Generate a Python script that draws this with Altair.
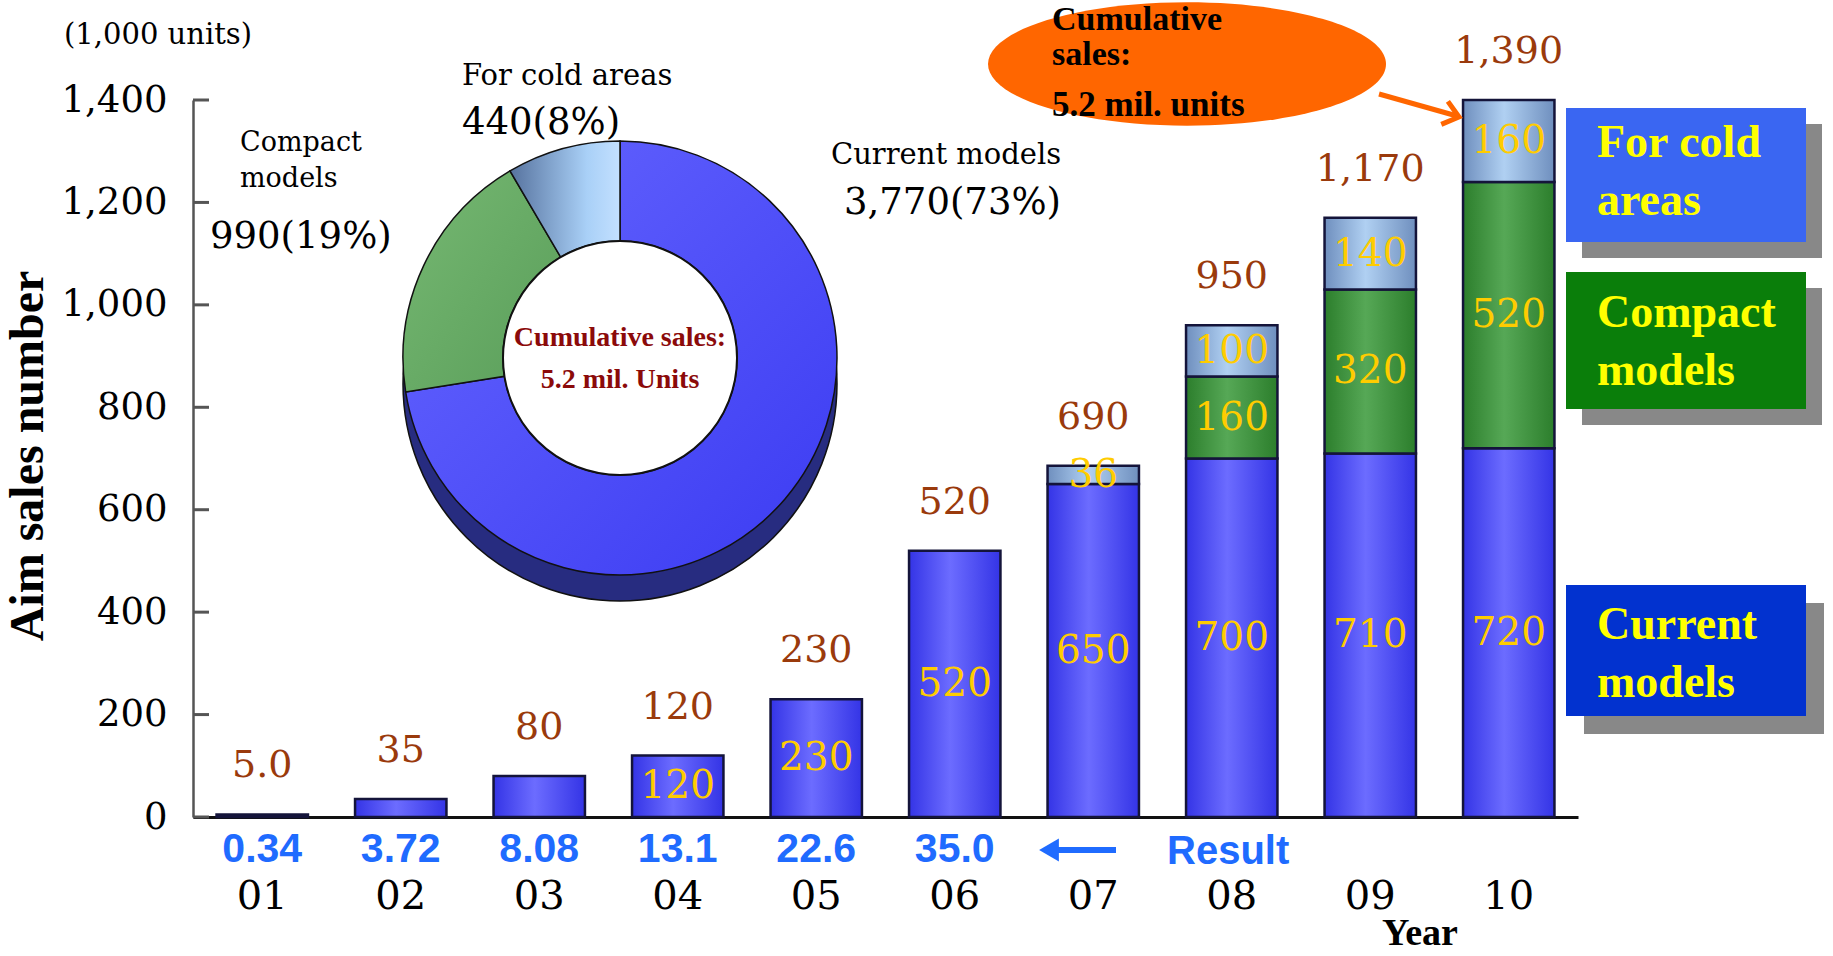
import math
import altair as alt
import pandas as pd

# ---- data -------------------------------------------------------------
years = ["01", "02", "03", "04", "05", "06", "07", "08", "09", "10"]
current = [5, 35, 80, 120, 230, 520, 650, 700, 710, 720]
compact = [0, 0, 0, 0, 0, 0, 0, 160, 320, 520]
cold = [0, 0, 0, 0, 0, 0, 36, 100, 140, 160]
totals = ["5.0", "35", "80", "120", "230", "520", "690", "950", "1,170", "1,390"]
results = ["0.34", "3.72", "8.08", "13.1", "22.6", "35.0"]
current_labelled = [False, False, False, True, True, True, True, True, True, True]

pie_names = ["Current models", "Compact models", "For cold areas"]
pie_values = [3770, 990, 440]
pie_shares = [73, 19, 8]

y_ticks = [0, 200, 400, 600, 800, 1000, 1200, 1400]

W, H = 1385, 717

# ---- tables -----------------------------------------------------------
rows = []
for i, yr in enumerate(years):
    low = 0
    for name, vals in (("current", current), ("compact", compact), ("cold", cold)):
        v = vals[i]
        if v <= 0:
            continue
        shown = current_labelled[i] if name == "current" else True
        rows.append({"year": yr, "series": name, "low": low, "high": low + v,
                     "mid": low + v / 2, "txt": str(v), "shown": shown})
        low += v
seg = pd.DataFrame(rows)

tops = seg.groupby("year", as_index=False)["high"].max().rename(columns={"high": "top"})
tops["label"] = totals
res = pd.DataFrame({"year": years[:len(results)], "r": results})
yrs = pd.DataFrame({"year": years})
ticks = pd.DataFrame({"v": y_ticks})

total_pie = sum(pie_values)
cum = 0
pie_rows = []
for n, v, s in zip(pie_names, pie_values, pie_shares):
    pie_rows.append({"name": n, "t0": cum, "t1": cum + v, "lab": f"{v:,}({s}%)"})
    cum += v
pie = pd.DataFrame(pie_rows)

ONE = alt.Data(values=[{"k": 0}])

# ---- shared scales ---------------------------------------------------
xscale = alt.Scale(domain=years, paddingInner=0.34, paddingOuter=0.17)
yscale = alt.Scale(domain=[0, 1400], nice=False, zero=True)
xaxis = alt.Axis(labels=False, ticks=False, title=None, domainColor="#111",
                 domainWidth=3, grid=False)
yaxis = alt.Axis(values=y_ticks, format=",d", title=None, tickSize=0, labelPadding=26,
                 labelFont="DejaVu Serif", labelFontSize=37, labelColor="black",
                 domainColor="#555", domainWidth=2.5, grid=False)
X = alt.X("year:N", scale=xscale, axis=xaxis, sort=years)


def grad(c_edge, c_mid):
    return alt.Gradient(gradient="linear", x1=0, x2=1, y1=0, y2=0,
                        stops=[alt.GradientStop(color=c_edge, offset=0),
                               alt.GradientStop(color=c_mid, offset=0.45),
                               alt.GradientStop(color=c_edge, offset=1)])


def bars(series, fill):
    return alt.Chart(seg).transform_filter(alt.datum.series == series).mark_bar(
        fill=fill, stroke="#14143a", strokeWidth=2.5
    ).encode(x=X, y=alt.Y("low:Q", scale=yscale, axis=yaxis), y2="high:Q")


def text(lines, x, y, size, color="black", font="DejaVu Serif", weight="normal",
         align="left", lh=0, angle=0):
    if isinstance(lines, str):
        lines = [lines]
    out = []
    for k, ln in enumerate(lines):
        kw = dict(text=ln, align=align, baseline="middle", font=font, fontSize=size,
                  fontWeight=weight, color=color)
        if angle:
            kw["angle"] = angle
        out.append(alt.Chart(ONE).mark_text(**kw).encode(
            x=alt.value(x), y=alt.value(y + k * lh)))
    return out


layers = []

# inward y-axis ticks
layers.append(alt.Chart(ticks).mark_rule(stroke="#555", strokeWidth=3).encode(
    y=alt.Y("v:Q", scale=yscale, axis=yaxis), x=alt.value(0), x2=alt.value(16)))

# stacked bars
layers.append(bars("current", grad("#3434e6", "#6c6cff")))
layers.append(bars("compact", grad("#2c7e2c", "#56a856")))
layers.append(bars("cold", grad("#6f8fbe", "#b0d0f2")))

# values inside the segments
layers.append(alt.Chart(seg).transform_filter(alt.datum.shown).mark_text(
    font="DejaVu Serif", fontSize=39, color="#FFCC00", baseline="middle"
).encode(x=X, y=alt.Y("mid:Q", scale=yscale, axis=yaxis), text="txt:N"))

# totals above the bars
layers.append(alt.Chart(tops).mark_text(
    font="DejaVu Serif", fontSize=38, color="#9a3a0c", baseline="middle", dy=-48
).encode(x=X, y=alt.Y("top:Q", scale=yscale, axis=yaxis), text="label:N"))

# year labels and actual results under the axis
layers.append(alt.Chart(yrs).mark_text(
    font="DejaVu Serif", fontSize=40, color="black", baseline="middle"
).encode(x=X, y=alt.value(H + 80), text="year:N"))
layers.append(alt.Chart(res).mark_text(
    font="Liberation Sans", fontWeight="bold", fontSize=41, color="#1f6bff",
    baseline="middle"
).encode(x=X, y=alt.value(H + 33), text="r:N"))

# "Result" pointer
layers.append(alt.Chart(ONE).mark_rule(stroke="#1f6bff", strokeWidth=6).encode(
    x=alt.value(856), x2=alt.value(923), y=alt.value(H + 33)))
layers.append(alt.Chart(ONE).mark_point(shape="triangle-left", size=520, filled=True,
                                        color="#1f6bff", opacity=1).encode(
    x=alt.value(856), y=alt.value(H + 33)))
layers += text("Result", 974, H + 35, 40, color="#1f6bff", font="Liberation Sans",
               weight="bold")

# ---- donut of cumulative sales ---------------------------------------
CX, CY, RO, RI = 427, 258, 217, 117
layers.append(alt.Chart(ONE).mark_arc(
    theta=0, theta2=2 * math.pi, outerRadius=RO, innerRadius=RI,
    fill="#272c80", stroke="#111", strokeWidth=1.5
).encode(x=alt.value(CX), y=alt.value(CY + 26)))

theta_scale = alt.Scale(domain=[0, total_pie], range=[0, 2 * math.pi])
slice_fills = {
    "Current models": alt.Gradient(gradient="linear", x1=0, y1=0, x2=1, y2=1,
                                   stops=[alt.GradientStop(color="#6666ff", offset=0),
                                          alt.GradientStop(color="#3b3bf2", offset=1)]),
    "Compact models": alt.Gradient(gradient="linear", x1=0, y1=0, x2=1, y2=1,
                                   stops=[alt.GradientStop(color="#76b872", offset=0),
                                          alt.GradientStop(color="#5a9e5a", offset=1)]),
    "For cold areas": alt.Gradient(gradient="linear", x1=0, y1=0, x2=1, y2=0,
                                   stops=[alt.GradientStop(color="#56729e", offset=0),
                                          alt.GradientStop(color="#a9d0f7", offset=0.7),
                                          alt.GradientStop(color="#c3e0ff", offset=1)]),
}
for n in pie_names:
    layers.append(alt.Chart(pie).transform_filter(alt.datum.name == n).mark_arc(
        outerRadius=RO, innerRadius=RI, fill=slice_fills[n], stroke="#111",
        strokeWidth=1.5
    ).encode(theta=alt.Theta("t0:Q", scale=theta_scale), theta2="t1:Q",
             x=alt.value(CX), y=alt.value(CY)))

layers.append(alt.Chart(ONE).mark_arc(
    theta=0, theta2=2 * math.pi, outerRadius=RI, innerRadius=0,
    fill="white", stroke="#111", strokeWidth=2
).encode(x=alt.value(CX), y=alt.value(CY)))
layers += text(["Cumulative sales:", "5.2 mil. Units"], CX, CY - 20, 28,
               color="#8b0a0a", font="Liberation Serif", weight="bold",
               align="center", lh=42)

# slice captions
pie_lab = dict(zip(pie["name"], pie["lab"]))
layers += text(["Compact", "models"], 47, 43, 27, lh=36)
layers += text(pie_lab["Compact models"], 17, 137, 37)
layers += text("For cold areas", 269, -24, 29)
layers += text(pie_lab["For cold areas"], 269, 23, 37)
layers += text("Current models", 638, 55, 29)
layers += text(pie_lab["Current models"], 651, 103, 37)

# ---- callout ------------------------------------------------------------
ELLIPSE = "M-1,0A1,0.31,0,1,1,1,0A1,0.31,0,1,1,-1,0Z"
layers.append(alt.Chart(ONE).mark_point(
    shape=ELLIPSE, size=398 ** 2, filled=True, fill="#ff6600", strokeWidth=0, opacity=1
).encode(x=alt.value(994), y=alt.value(-36)))
layers += text(["Cumulative", "sales:"], 859, -80, 34, font="Liberation Serif",
               weight="bold", lh=35)
layers += text("5.2 mil. units", 859, 5, 35, font="Liberation Serif", weight="bold")
layers.append(alt.Chart(ONE).mark_rule(stroke="#ff6600", strokeWidth=5).encode(
    x=alt.value(1186), y=alt.value(-6), x2=alt.value(1264), y2=alt.value(16)))
layers.append(alt.Chart(ONE).mark_point(
    shape="M-1,-0.8L0,0L-1,0.8", size=900, filled=False, stroke="#ff6600",
    strokeWidth=5, angle=16, opacity=1
).encode(x=alt.value(1266), y=alt.value(17)))

# ---- series key boxes ---------------------------------------------------
boxes = [
    ("#3a66f2", 8, 142, 16, ["For cold", "areas"], 43),
    ("#0a7e0a", 172, 309, 16, ["Compact", "models"], 213),
    ("#0232cf", 485, 616, 18, ["Current", "models"], 525),
]
for fill, y0, y1, off, lines, ty in boxes:
    layers.append(alt.Chart(ONE).mark_rect(fill="#888888").encode(
        x=alt.value(1373 + off), x2=alt.value(1613 + off),
        y=alt.value(y0 + off), y2=alt.value(y1 + off)))
    layers.append(alt.Chart(ONE).mark_rect(fill=fill).encode(
        x=alt.value(1373), x2=alt.value(1613), y=alt.value(y0), y2=alt.value(y1)))
    layers += text(lines, 1404, ty, 46, color="#ffff00", font="Liberation Serif",
                   weight="bold", lh=58)

# ---- titles --------------------------------------------------------------
layers += text("(1,000 units)", -129, -65, 29)
layers += text("Aim sales number", -164, 356, 48, font="Liberation Serif",
               weight="bold", align="center", angle=270)
layers += text("Year", 1227, 834, 38, font="Liberation Serif", weight="bold",
               align="center")

chart = alt.layer(*layers).properties(
    width=W, height=H,
    autosize=alt.AutoSizeParams(type="none"),
    padding={"left": 193, "top": 100, "right": 255, "bottom": 139},
    background="white",
).configure_view(stroke=None)

chart.save("out.html", embed_options={"renderer": "svg", "actions": False})
